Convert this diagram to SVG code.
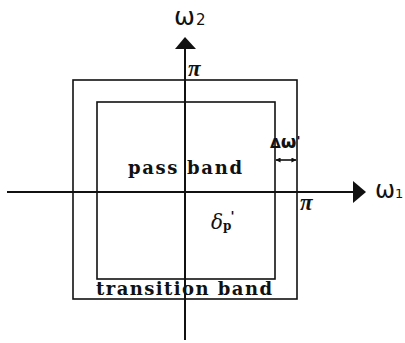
<svg xmlns="http://www.w3.org/2000/svg" width="405" height="343" viewBox="0 0 405 343">
<defs>
<style>
.ln{stroke:#111;fill:none;stroke-width:1.6}
.ax{stroke:#111;fill:none;stroke-width:2}
.lbl{font-family:"DejaVu Serif","Liberation Serif",serif;font-weight:bold;font-size:18px;fill:#111}
.sym{font-family:"DejaVu Sans","Liberation Sans",sans-serif;fill:#111}
.pi{font-family:"Liberation Serif","DejaVu Serif",serif;font-weight:bold;font-style:italic;font-size:23px;fill:#111}
</style>
<marker id="tk" viewBox="0 0 6 6" refX="5.5" refY="3" markerWidth="5" markerHeight="5" orient="auto-start-reverse" markerUnits="userSpaceOnUse">
<path d="M0,0 L6,3 L0,6 Z" fill="#111"/>
</marker>
</defs>
<rect width="405" height="343" fill="#fff"/>
<g id="bands">
<rect id="outer" class="ln" x="73" y="80" width="224" height="219"/>
<rect id="inner" class="ln" x="97" y="102" width="178" height="177"/>
</g>
<g id="axes">
<line class="ax" x1="7" y1="192" x2="356" y2="192"/>
<polygon points="353,181 366,192 353,203" fill="#111"/>
<line class="ax" x1="185" y1="47" x2="185" y2="340"/>
<polygon points="175,49 185,37 196,49" fill="#111"/>
<line class="ln" x1="276" y1="160" x2="296" y2="160" stroke-width="1.3" marker-start="url(#tk)" marker-end="url(#tk)"/>
</g>
<g id="labels">
<text class="sym" x="174" y="25" font-size="25">ω<tspan font-size="15" dx="1">2</tspan></text>
<text class="sym" x="375" y="198" font-size="24">ω<tspan font-size="13">1</tspan></text>
<text class="pi" x="188" y="76">π</text>
<text class="pi" x="300" y="210">π</text>
<text class="lbl" x="128" y="174" textLength="114" lengthAdjust="spacing">pass band</text>
<text class="lbl" x="96" y="295" textLength="176" lengthAdjust="spacing">transition band</text>
<text class="sym" x="270" y="148" font-size="14" font-weight="bold">Δ<tspan font-size="18">ω</tspan><tspan font-size="13" dy="-3">'</tspan></text>
<text x="211" y="229" font-family="DejaVu Serif, serif" font-style="italic" font-size="20" fill="#111">δ<tspan font-size="12" font-weight="bold" font-style="normal" dy="1">p</tspan><tspan font-size="13" font-style="normal" font-weight="bold" dx="-1" dy="-9">'</tspan></text>
</g>
</svg>
